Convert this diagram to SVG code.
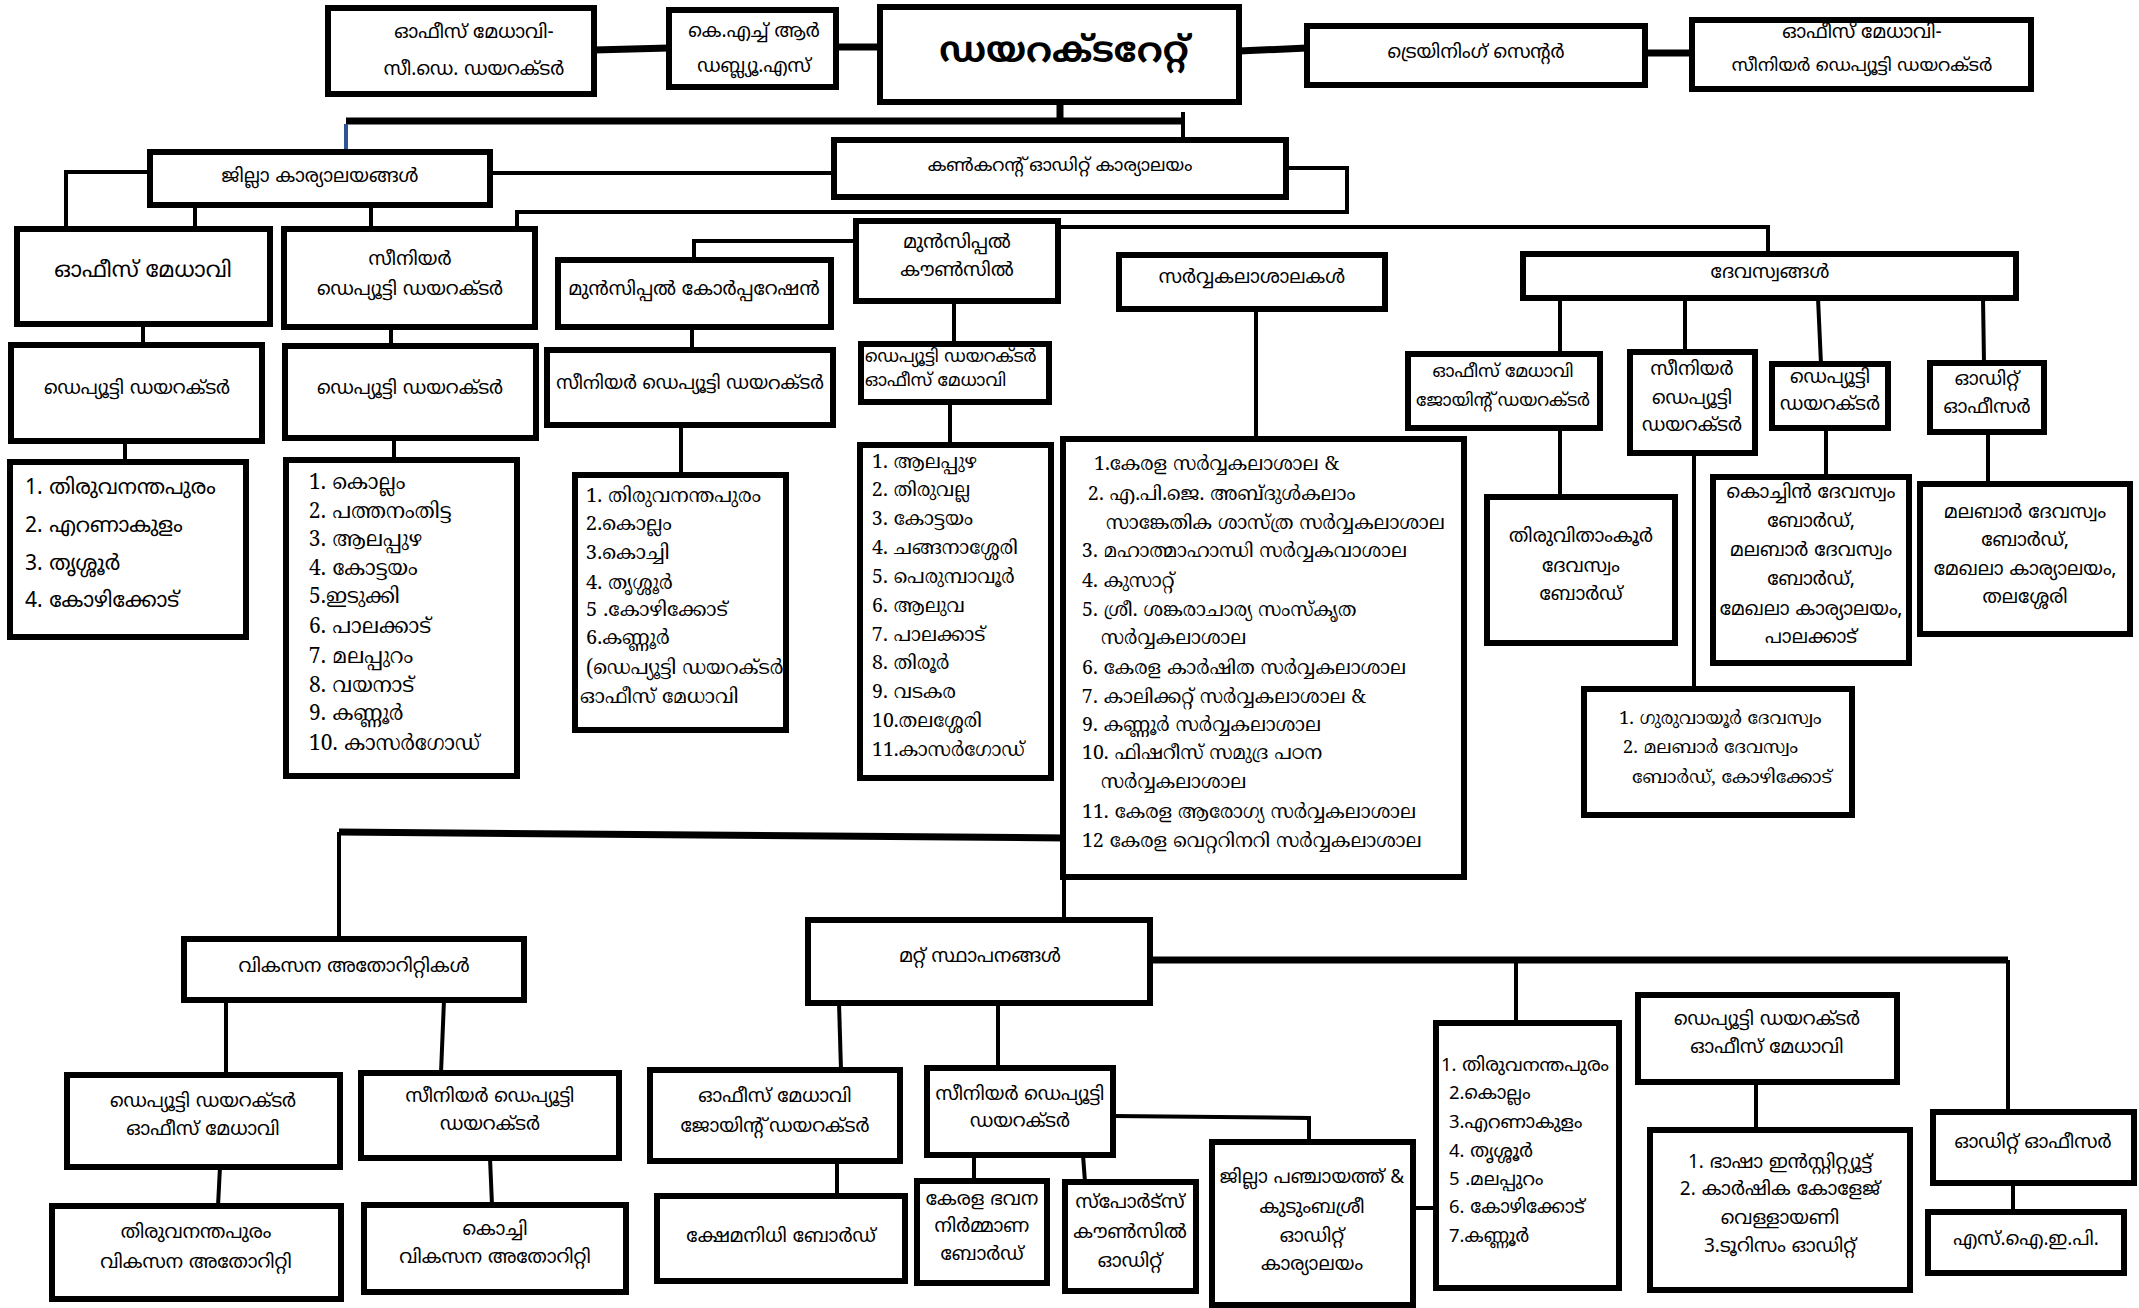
<svg xmlns="http://www.w3.org/2000/svg" width="2139" height="1308" viewBox="0 0 2139 1308">
<style>
.b{fill:#fff;stroke:#000;stroke-width:6}
.c{fill:none;stroke:#000;stroke-width:4}
.k{stroke-width:7}
.t{font-family:"Noto Sans Malayalam","Noto Sans","DejaVu Sans",sans-serif;font-size:19px;text-anchor:middle;dominant-baseline:central;fill:#000}
.s{font-family:"Noto Serif Malayalam","Noto Sans Malayalam","Liberation Serif",serif;font-size:21px;text-anchor:start;dominant-baseline:central;fill:#000}
.s2{font-size:19.5px}
.s3{font-size:20px}
.l{text-anchor:start}
.big{font-size:35px;font-weight:bold}
</style>
<rect x="0" y="0" width="2139" height="1308" fill="#fff"/>
<g id="connectors">
<path class="c k" d="M594,50 L669,48"/>
<path class="c k" d="M836,47 L880,47"/>
<path class="c k" d="M1239,51 L1307,48"/>
<path class="c k" d="M1645,53 L1692,53"/>
<path class="c k" d="M1060,102 V121"/>
<path class="c k" d="M346,121 H1183"/>
<path class="c" d="M1183,112 V140"/>
<path class="c" style="stroke:#2f5597" stroke-width="3" d="M346,124 V152"/>
<path class="c" d="M490,173 H834"/>
<path class="c" d="M150,172 H66 V229"/>
<path class="c" d="M195,205 V229 M371,205 V229"/>
<path class="c" d="M1286,168 H1347 V212 H517 V229"/>
<path class="c" d="M856,241 H694 V260"/>
<path class="c" d="M1058,227 H1768 V254"/>
<path class="c" d="M143,324 V345 M125,441 V462"/>
<path class="c" d="M391,327 V346 M394,438 V460"/>
<path class="c" d="M692,327 V350 M681,425 V475"/>
<path class="c" d="M954,301 V344 M950,402 V445"/>
<path class="c" stroke-width="5" d="M1256,309 V439"/>
<path class="c" d="M1560,298 V354 M1560,428 V497"/>
<path class="c" d="M1685,298 V352 M1818,298 L1821,364 M1983,298 L1984,363"/>
<path class="c" d="M1694,453 V689 M1826,428 V477 M1988,432 V484"/>
<path class="c k" d="M1067,838 L339,832"/>
<path class="c" d="M339,832 V939"/>
<path class="c" stroke-width="3" d="M1064,877 V920"/>
<path class="c" stroke-width="5" d="M226,987 V1075"/>
<path class="c" d="M444,1000 L441,1073 M220,1167 L218,1206 M490,1158 L492,1205"/>
<path class="c k" d="M1150,960 H2008"/>
<path class="c" stroke-width="5" d="M2008,960 V1112"/>
<path class="c" d="M1516,960 V1023"/>
<path class="c" stroke-width="3" d="M839,1003 L841,1070"/>
<path class="c" d="M998,1003 V1068 M837,1161 V1196 M974,1155 V1181 M1083,1155 L1085,1182"/>
<path class="c" d="M1113,1116 L1309,1118 V1142 M1413,1208 H1436"/>
<path class="c" stroke-width="5" d="M1756,1082 V1130 M2013,1183 V1212"/>
</g>
<g id="n_dir"><rect class="b" x="880" y="7" width="359" height="95"/><text class="t big" x="1064" y="53">ഡയറക്ടറേറ്റ്</text></g>
<g id="n_cdir"><rect class="b" x="328" y="8" width="266" height="86"/><text class="t" x="474" y="33">ഓഫീസ് മേധാവി-</text><text class="t" x="474" y="70">സീ.ഡെ. ഡയറക്ടർ</text></g>
<g id="n_khrws"><rect class="b" x="669" y="10" width="167" height="77"/><text class="t" x="754" y="32">കെ.എച്ച് ആർ</text><text class="t" x="754" y="67">ഡബ്ല്യൂ.എസ്</text></g>
<g id="n_train"><rect class="b" x="1307" y="26" width="338" height="59"/><text class="t" x="1476" y="53">ട്രെയിനിംഗ് സെന്റർ</text></g>
<g id="n_train_head"><rect class="b" x="1692" y="20" width="339" height="69"/><text class="t" x="1862" y="33">ഓഫീസ് മേധാവി-</text><text class="t" style="font-size:18px" x="1862" y="66">സീനിയർ ഡെപ്യൂട്ടി ഡയറക്ടർ</text></g>
<g id="n_dist"><rect class="b" x="150" y="152" width="340" height="53"/><text class="t" x="320" y="177">ജില്ലാ കാര്യാലയങ്ങൾ</text></g>
<g id="n_conc"><rect class="b" x="834" y="140" width="452" height="57"/><text class="t" style="font-size:18px" x="1060" y="166">കൺകറന്റ് ഓഡിറ്റ് കാര്യാലയം</text></g>
<g id="n_dist_oh"><rect class="b" x="17" y="229" width="253" height="95"/><text class="t" style="font-size:22px" x="143" y="271">ഓഫീസ് മേധാവി</text></g>
<g id="n_dist_dd1"><rect class="b" x="11" y="345" width="251" height="96"/><text class="t" x="137" y="389">ഡെപ്യൂട്ടി ഡയറക്ടർ</text></g>
<g id="n_dist_list1"><rect class="b" x="10" y="462" width="236" height="175"/>
<text class="t l" style="font-size:21px" x="25" y="489">1. തിരുവനന്തപുരം</text>
<text class="t l" style="font-size:21px" x="25" y="527">2. എറണാകുളം</text>
<text class="t l" style="font-size:21px" x="25" y="565">3. തൃശ്ശൂർ</text>
<text class="t l" style="font-size:21px" x="25" y="602">4. കോഴിക്കോട്</text></g>
<g id="n_dist_srdd"><rect class="b" x="284" y="229" width="251" height="98"/><text class="t" x="410" y="260">സീനിയർ</text><text class="t" x="410" y="290">ഡെപ്യൂട്ടി ഡയറക്ടർ</text></g>
<g id="n_dist_dd2"><rect class="b" x="285" y="346" width="251" height="92"/><text class="t" x="410" y="389">ഡെപ്യൂട്ടി ഡയറക്ടർ</text></g>
<g id="n_dist_list2"><rect class="b" x="286" y="460" width="231" height="316"/>
<text class="s" x="309" y="484">1. കൊല്ലം</text>
<text class="s" x="309" y="513">2. പത്തനംതിട്ട</text>
<text class="s" x="309" y="541">3. ആലപ്പുഴ</text>
<text class="s" x="309" y="570">4. കോട്ടയം</text>
<text class="s" x="309" y="598">5.ഇടുക്കി</text>
<text class="s" x="309" y="628">6. പാലക്കാട്</text>
<text class="s" x="309" y="658">7. മലപ്പുറം</text>
<text class="s" x="309" y="687">8. വയനാട്</text>
<text class="s" x="309" y="715">9. കണ്ണൂർ</text>
<text class="s" x="309" y="745">10. കാസർഗോഡ്</text></g>
<g id="n_corp"><rect class="b" x="558" y="260" width="273" height="67"/><text class="t" x="694" y="290">മുൻസിപ്പൽ കോർപ്പറേഷൻ</text></g>
<g id="n_corp_srdd"><rect class="b" x="547" y="350" width="286" height="75"/><text class="t" style="font-size:18.5px" x="690" y="384">സീനിയർ ഡെപ്യൂട്ടി ഡയറക്ടർ</text></g>
<g id="n_corp_list"><rect class="b" x="575" y="475" width="211" height="255"/>
<text class="s s3" x="586" y="497">1. തിരുവനന്തപുരം</text>
<text class="s s3" x="586" y="525">2.കൊല്ലം</text>
<text class="s s3" x="586" y="554">3.കൊച്ചി</text>
<text class="s s3" x="586" y="584">4. തൃശ്ശൂർ</text>
<text class="s s3" x="586" y="611">5 .കോഴിക്കോട്</text>
<text class="s s3" x="586" y="639">6.കണ്ണൂർ</text>
<text class="s s3" x="586" y="669">(ഡെപ്യൂട്ടി ഡയറക്ടർ,</text>
<text class="s s3" x="580" y="698">ഓഫീസ് മേധാവി</text></g>
<g id="n_council"><rect class="b" x="856" y="221" width="202" height="80"/><text class="t" x="957" y="243">മുൻസിപ്പൽ</text><text class="t" x="957" y="271">കൗൺസിൽ</text></g>
<g id="n_council_dd"><rect class="b" x="861" y="344" width="188" height="58"/><text class="t l" style="font-size:17.5px" x="865" y="358">ഡെപ്യൂട്ടി ഡയറക്ടർ</text><text class="t l" style="font-size:17.5px" x="865" y="382">ഓഫീസ് മേധാവി</text></g>
<g id="n_council_list"><rect class="b" x="860" y="445" width="191" height="333"/>
<text class="s s2" x="872" y="463">1. ആലപ്പുഴ</text>
<text class="s s2" x="872" y="491">2. തിരുവല്ല</text>
<text class="s s2" x="872" y="520">3. കോട്ടയം</text>
<text class="s s2" x="872" y="549">4. ചങ്ങനാശ്ശേരി</text>
<text class="s s2" x="872" y="578">5. പെരുമ്പാവൂർ</text>
<text class="s s2" x="872" y="607">6. ആലുവ</text>
<text class="s s2" x="872" y="636">7. പാലക്കാട്</text>
<text class="s s2" x="872" y="664">8. തിരൂർ</text>
<text class="s s2" x="872" y="693">9. വടകര</text>
<text class="s s2" x="872" y="722">10.തലശ്ശേരി</text>
<text class="s s2" x="872" y="751">11.കാസർഗോഡ്</text></g>
<g id="n_univ"><rect class="b" x="1119" y="255" width="266" height="54"/><text class="t" x="1252" y="278">സർവ്വകലാശാലകൾ</text></g>
<g id="n_univ_list"><rect class="b" x="1063" y="439" width="401" height="438"/>
<text class="s s2" x="1094" y="465">1.കേരള സർവ്വകലാശാല &amp;</text>
<text class="s s2" x="1088" y="495">2. എ.പി.ജെ. അബ്ദുൾകലാം</text>
<text class="s s2" x="1106" y="524">സാങ്കേതിക ശാസ്ത്ര സർവ്വകലാശാല</text>
<text class="s s2" x="1082" y="552">3. മഹാത്മാഹാന്ധി സർവ്വകവാശാല</text>
<text class="s s2" x="1082" y="582">4. കുസാറ്റ്</text>
<text class="s s2" x="1082" y="611">5. ശ്രീ. ശങ്കരാചാര്യ സംസ്കൃത</text>
<text class="s s2" x="1101" y="639">സർവ്വകലാശാല</text>
<text class="s s2" x="1082" y="669">6. കേരള കാർഷിത സർവ്വകലാശാല</text>
<text class="s s2" x="1082" y="698">7. കാലിക്കറ്റ് സർവ്വകലാശാല &amp;</text>
<text class="s s2" x="1082" y="726">9. കണ്ണൂർ സർവ്വകലാശാല</text>
<text class="s s2" x="1082" y="754">10. ഫിഷറീസ് സമുദ്ര പഠന</text>
<text class="s s2" x="1101" y="783">സർവ്വകലാശാല</text>
<text class="s s2" x="1082" y="813">11. കേരള ആരോഗ്യ സർവ്വകലാശാല</text>
<text class="s s2" x="1082" y="842">12 കേരള വെറ്ററിനറി സർവ്വകലാശാല</text></g>
<g id="n_dev"><rect class="b" x="1523" y="254" width="493" height="44"/><text class="t" x="1770" y="273">ദേവസ്വങ്ങൾ</text></g>
<g id="n_dev_oh"><rect class="b" x="1408" y="354" width="192" height="74"/><text class="t" style="font-size:17.5px" x="1503" y="373">ഓഫീസ് മേധാവി</text><text class="t" style="font-size:17.5px" x="1503" y="402">ജോയിന്റ് ഡയറക്ടർ</text></g>
<g id="n_dev_tvk"><rect class="b" x="1487" y="497" width="188" height="146"/><text class="t" x="1581" y="537">തിരുവിതാംകൂർ</text><text class="t" x="1581" y="567">ദേവസ്വം</text><text class="t" x="1581" y="595">ബോർഡ്</text></g>
<g id="n_dev_srdd"><rect class="b" x="1630" y="352" width="125" height="101"/><text class="t" x="1692" y="370">സീനിയർ</text><text class="t" x="1692" y="399">ഡെപ്യൂട്ടി</text><text class="t" x="1692" y="426">ഡയറക്ടർ</text></g>
<g id="n_dev_dd"><rect class="b" x="1772" y="364" width="116" height="64"/><text class="t" x="1830" y="378">ഡെപ്യൂട്ടി</text><text class="t" x="1830" y="405">ഡയറക്ടർ</text></g>
<g id="n_dev_audit"><rect class="b" x="1930" y="363" width="114" height="69"/><text class="t" x="1987" y="380">ഓഡിറ്റ്</text><text class="t" x="1987" y="408">ഓഫീസർ</text></g>
<g id="n_dev_cochin"><rect class="b" x="1713" y="477" width="196" height="186"/>
<text class="t" x="1811" y="493">കൊച്ചിൻ ദേവസ്വം</text><text class="t" x="1811" y="522">ബോർഡ്,</text><text class="t" x="1811" y="551">മലബാർ ദേവസ്വം</text><text class="t" x="1811" y="580">ബോർഡ്,</text><text class="t" x="1811" y="610">മേഖലാ കാര്യാലയം,</text><text class="t" x="1811" y="638">പാലക്കാട്</text></g>
<g id="n_dev_malabar"><rect class="b" x="1920" y="484" width="210" height="150"/>
<text class="t" x="2025" y="513">മലബാർ ദേവസ്വം</text><text class="t" x="2025" y="541">ബോർഡ്,</text><text class="t" x="2025" y="570">മേഖലാ കാര്യാലയം,</text><text class="t" x="2025" y="598">തലശ്ശേരി</text></g>
<g id="n_dev_guru"><rect class="b" x="1584" y="689" width="268" height="126"/>
<text class="s" style="font-size:18.5px" x="1619" y="719">1. ഗുരുവായൂർ ദേവസ്വം</text><text class="s" style="font-size:18.5px" x="1623" y="748">2. മലബാർ ദേവസ്വം</text><text class="s" style="font-size:18.5px" x="1632" y="778">ബോർഡ്, കോഴിക്കോട്</text></g>
<g id="n_vik"><rect class="b" x="184" y="939" width="340" height="61"/><text class="t" x="354" y="967">വികസന അതോറിറ്റികൾ</text></g>
<g id="n_vik_dd"><rect class="b" x="67" y="1075" width="273" height="92"/><text class="t" x="203" y="1102">ഡെപ്യൂട്ടി ഡയറക്ടർ</text><text class="t" x="203" y="1130">ഓഫീസ് മേധാവി</text></g>
<g id="n_vik_srdd"><rect class="b" x="361" y="1073" width="258" height="85"/><text class="t" x="490" y="1097">സീനിയർ ഡെപ്യൂട്ടി</text><text class="t" x="490" y="1125">ഡയറക്ടർ</text></g>
<g id="n_vik_tvm"><rect class="b" x="52" y="1206" width="289" height="93"/><text class="t" x="196" y="1233">തിരുവനന്തപുരം</text><text class="t" x="196" y="1263">വികസന അതോറിറ്റി</text></g>
<g id="n_vik_kochi"><rect class="b" x="364" y="1205" width="262" height="87"/><text class="t" x="495" y="1230">കൊച്ചി</text><text class="t" x="495" y="1258">വികസന അതോറിറ്റി</text></g>
<g id="n_other"><rect class="b" x="808" y="920" width="342" height="83"/><text class="t" x="980" y="957">മറ്റ് സ്ഥാപനങ്ങൾ</text></g>
<g id="n_oth_oh"><rect class="b" x="650" y="1070" width="250" height="91"/><text class="t" x="775" y="1097">ഓഫീസ് മേധാവി</text><text class="t" x="775" y="1127">ജോയിന്റ് ഡയറക്ടർ</text></g>
<g id="n_oth_kshema"><rect class="b" x="657" y="1196" width="248" height="85"/><text class="t" x="781" y="1237">ക്ഷേമനിധി ബോർഡ്</text></g>
<g id="n_oth_srdd"><rect class="b" x="927" y="1068" width="186" height="87"/><text class="t" x="1020" y="1095">സീനിയർ ഡെപ്യൂട്ടി</text><text class="t" x="1020" y="1122">ഡയറക്ടർ</text></g>
<g id="n_oth_kbhavana"><rect class="b" x="917" y="1181" width="130" height="102"/><text class="t" x="982" y="1200">കേരള ഭവന</text><text class="t" x="982" y="1227">നിർമ്മാണ</text><text class="t" x="982" y="1255">ബോർഡ്</text></g>
<g id="n_oth_sports"><rect class="b" x="1065" y="1182" width="131" height="109"/><text class="t" x="1130" y="1203">സ്പോർട്സ്</text><text class="t" x="1130" y="1233">കൗൺസിൽ</text><text class="t" x="1130" y="1262">ഓഡിറ്റ്</text></g>
<g id="n_oth_zp"><rect class="b" x="1212" y="1142" width="201" height="163"/><text class="t" x="1312" y="1178">ജില്ലാ പഞ്ചായത്ത് &amp;</text><text class="t" x="1312" y="1208">കുടുംബശ്രീ</text><text class="t" x="1312" y="1237">ഓഡിറ്റ്</text><text class="t" x="1312" y="1265">കാര്യാലയം</text></g>
<g id="n_oth_dist"><rect class="b" x="1436" y="1023" width="183" height="265"/>
<text class="t l" style="font-size:18.5px" x="1441" y="1066">1. തിരുവനന്തപുരം</text>
<text class="t l" style="font-size:18.5px" x="1449" y="1094">2.കൊല്ലം</text>
<text class="t l" style="font-size:18.5px" x="1449" y="1123">3.എറണാകുളം</text>
<text class="t l" style="font-size:18.5px" x="1449" y="1152">4. തൃശ്ശൂർ</text>
<text class="t l" style="font-size:18.5px" x="1449" y="1180">5 .മലപ്പുറം</text>
<text class="t l" style="font-size:18.5px" x="1449" y="1208">6. കോഴിക്കോട്</text>
<text class="t l" style="font-size:18.5px" x="1449" y="1237">7.കണ്ണൂർ</text></g>
<g id="n_oth_dd"><rect class="b" x="1638" y="995" width="259" height="87"/><text class="t" x="1767" y="1020">ഡെപ്യൂട്ടി ഡയറക്ടർ</text><text class="t" x="1767" y="1048">ഓഫീസ് മേധാവി</text></g>
<g id="n_oth_inst"><rect class="b" x="1650" y="1130" width="260" height="160"/><text class="t" x="1780" y="1163">1. ഭാഷാ ഇൻസ്റ്റിറ്റ്യൂട്ട്</text><text class="t" x="1780" y="1190">2. കാർഷിക കോളേജ്</text><text class="t" x="1780" y="1219">വെള്ളായണി</text><text class="t" x="1780" y="1247">3.ടൂറിസം ഓഡിറ്റ്</text></g>
<g id="n_oth_audit"><rect class="b" x="1933" y="1112" width="201" height="71"/><text class="t" x="2033" y="1143">ഓഡിറ്റ് ഓഫീസർ</text></g>
<g id="n_oth_siep"><rect class="b" x="1928" y="1212" width="196" height="61"/><text class="t" x="2026" y="1240">എസ്.ഐ.ഇ.പി.</text></g>
</svg>
